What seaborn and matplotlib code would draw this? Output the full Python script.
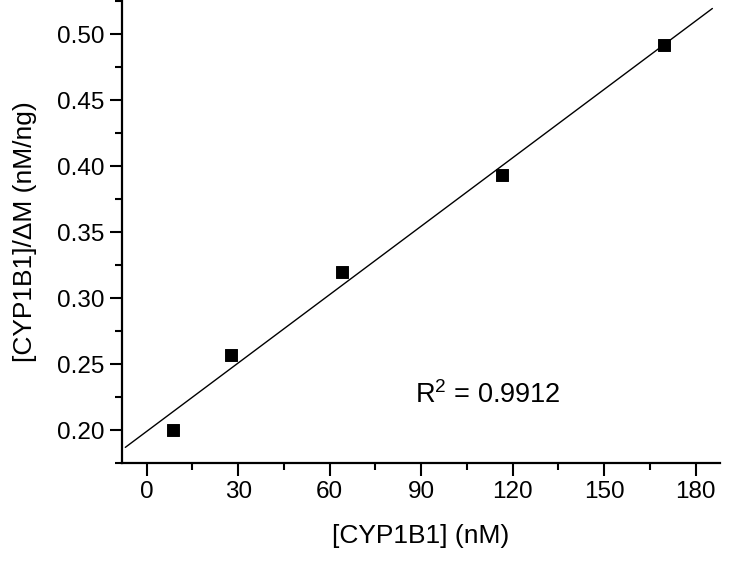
import numpy as np
import pandas as pd
import matplotlib
matplotlib.use("Agg")
import matplotlib.pyplot as plt
import seaborn as sns
from matplotlib.ticker import MultipleLocator

# Data
conc = [8.5, 27.5, 64.0, 116.5, 169.5]          # [CYP1B1] (nM)
ratio = [0.200, 0.257, 0.320, 0.393, 0.492]     # [CYP1B1]/dM (nM/ng)
r2_text = r"R$^2$ = 0.9912"

df = pd.DataFrame({"conc": conc, "ratio": ratio})

sns.set_style("ticks", {"axes.edgecolor": "black", "text.color": "black",
                        "axes.labelcolor": "black", "xtick.color": "black",
                        "ytick.color": "black"})
plt.rcParams["font.family"] = ["Liberation Sans", "DejaVu Sans"]
plt.rcParams["mathtext.fontset"] = "custom"
plt.rcParams["mathtext.rm"] = "Liberation Sans"
plt.rcParams["mathtext.it"] = "Liberation Sans"
plt.rcParams["mathtext.default"] = "regular"

fig = plt.figure(figsize=(7.5, 5.64), dpi=100)
ax = fig.add_axes([0.163, 0.179, 0.797, 0.821])

# linear fit
slope, intercept = np.polyfit(df["conc"], df["ratio"], 1)
fit_x = np.array([-7.0, 185.5])
ax.plot(fit_x, slope * fit_x + intercept, color="black", lw=1.0)

sns.scatterplot(data=df, x="conc", y="ratio", marker="s", s=70,
                color="black", edgecolor="black", ax=ax, zorder=3)

ax.text(88, 0.2265, r2_text, fontsize=19.5, va="center", ha="left",
        color="black")

ax.set_xlim(-8, 188)
ax.set_ylim(0.175, 0.526)
ax.xaxis.set_major_locator(MultipleLocator(30))
ax.xaxis.set_minor_locator(MultipleLocator(15))
ax.yaxis.set_major_locator(MultipleLocator(0.05))
ax.yaxis.set_minor_locator(MultipleLocator(0.025))
ax.yaxis.set_major_formatter(plt.FormatStrFormatter("%.2f"))

ax.tick_params(which="major", direction="out", length=9, width=1.5,
               labelsize=17.5, pad=4, colors="black")
ax.tick_params(which="minor", direction="out", length=5, width=1.5,
               colors="black")
for side in ["left", "bottom"]:
    ax.spines[side].set_linewidth(1.6)
    ax.spines[side].set_color("black")
sns.despine(ax=ax)

ax.set_xlabel("[CYP1B1] (nM)", fontsize=19, labelpad=15, color="black")
ax.set_ylabel("[CYP1B1]/ΔM (nM/ng)", fontsize=19, labelpad=14, color="black")

fig.savefig("out.png", dpi=100)
